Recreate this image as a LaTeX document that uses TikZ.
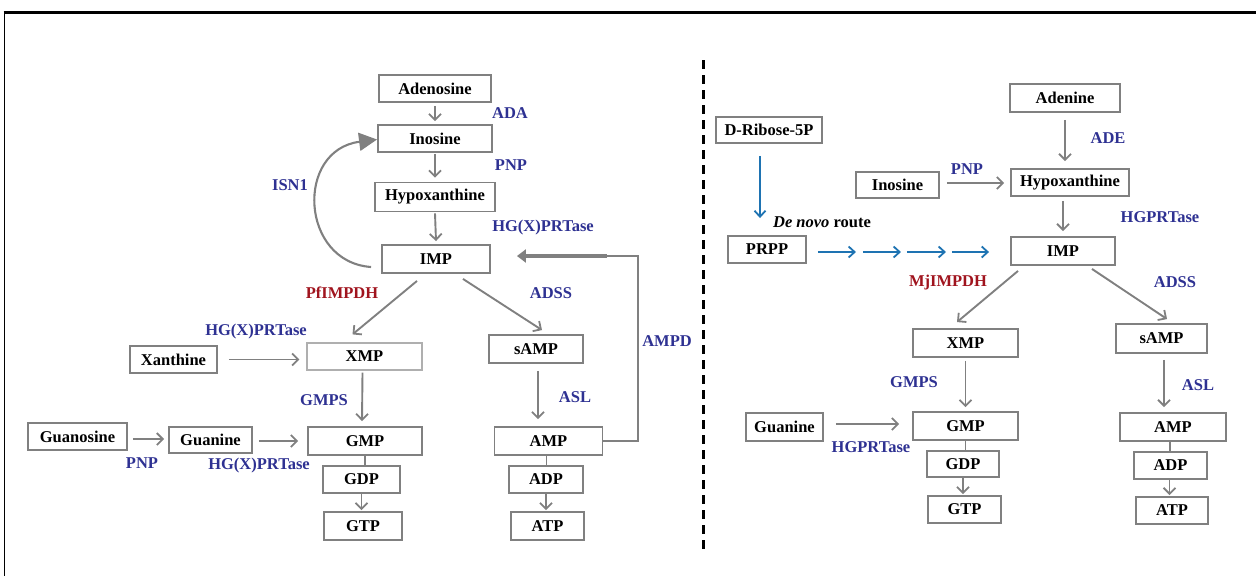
\documentclass[tikz,border=0pt]{standalone}
\usepackage{fontspec}
\setmainfont{Liberation Serif}
\usetikzlibrary{arrows.meta,calc}
\definecolor{lblue}{RGB}{46,49,146}
\definecolor{lred}{RGB}{160,20,30}
\definecolor{gline}{RGB}{128,128,128}
\definecolor{lightline}{RGB}{175,175,175}
\definecolor{darr}{RGB}{30,115,178}
\begin{document}
\begin{tikzpicture}[x=1pt,y=-1pt,
  box/.style 2 args={draw=gline,line width=1.9pt,minimum width=#1,minimum height=#2,inner sep=0pt,
    font=\fontsize{16.5}{18}\selectfont\bfseries,text=black},
  enz/.style={text=lblue,font=\fontsize{16.5}{18}\selectfont\bfseries,inner sep=0pt},
  renz/.style={text=lred,font=\fontsize{16.5}{18}\selectfont\bfseries,inner sep=0pt},
  arr/.style={draw=gline,line width=1.9pt,-{Straight Barb[length=6pt,width=12pt,line width=1.8pt]}},
  plain/.style={draw=gline,line width=1.9pt},
  barr/.style={draw=darr,line width=1.9pt,-{Straight Barb[length=6pt,width=11pt,line width=1.8pt]}},
  bigtip/.style={draw=gline,line width=2.1pt,-{Triangle[length=18pt,width=18pt]}},
  thicktip/.style={draw=gline,line width=4.5pt,-{Triangle[length=9pt,width=13pt]}}
]
\useasboundingbox (0,0) rectangle (1256,576);
% frame
\draw[line width=2.5pt] (3.5,12.5) -- (1256,12.5);
\draw[line width=1.5pt] (4.5,12) -- (4.5,576);
% divider
\draw[line width=3pt,dash pattern=on 9pt off 6pt] (703,60) -- (703,552);

% ---------- left ----------
\node[box={112}{27}] (adenosine) at (435,88.5) {Adenosine};
\node[box={114}{27}] (inosineL) at (435,138.5) {Inosine};
\node[box={120}{29}] (hypoL) at (435,197) {Hypoxanthine};
\node[box={108}{28}] (impL) at (436,259) {IMP};
\node[box={115}{27},draw=lightline,line width=1.2pt] (xmpL) at (364.5,356.5) {XMP};
\node[box={94}{28}] (sampL) at (536,349) {sAMP};
\node[box={114}{28}] (gmpL) at (365,441) {GMP};
\node[box={108}{28}] (ampL) at (548.5,441) {AMP};
\node[box={77}{27}] (gdpL) at (361.5,479.5) {GDP};
\node[box={74}{27}] (adpL) at (546,479.5) {ADP};
\node[box={78}{28}] (gtpL) at (363,526) {GTP};
\node[box={73}{28}] (atpL) at (547.5,526) {ATP};
\node[box={87}{27}] (xanthine) at (173.5,359.5) {Xanthine};
\node[box={99}{27}] (guanosine) at (77.5,436.5) {Guanosine};
\node[box={83}{26}] (guanineL) at (210.5,440) {Guanine};

\draw[arr] ($(adenosine.south)+(0,3)$) -- ($(inosineL.north)+(0,-3)$);
\draw[arr] ($(inosineL.south)+(0,1)$) -- ($(hypoL.north)+(0,-4)$);
\draw[arr] ($(hypoL.south)+(0,1)$) -- ($(impL.north)+(0,-3)$);
\draw[arr] ($(impL.south)+(-19,7)$) -- ($(xmpL.north)+(-12,-8)$);
\draw[arr] ($(impL.south)+(27,5)$) -- ($(sampL.north)+(6,-4)$);
\draw[arr] ($(xmpL.south)+(-2,2)$) -- ($(gmpL.north)+(-3,-5)$);
\draw[arr] ($(sampL.south)+(2,7)$) -- ($(sampL.south |- ampL.north)+(2,-7)$);
\draw[plain] (gmpL.south) -- (gmpL.south |- gdpL.north);
\draw[arr] (gdpL.south) -- ($(gdpL.south |- gtpL.north)+(0,-1)$);
\draw[plain] ($(ampL.south)+(-2,0)$) -- ($(ampL.south |- adpL.north)+(-2,0)$);
\draw[arr] (adpL.south) -- ($(adpL.south |- atpL.north)+(0,-1)$);
\draw[arr] ($(xanthine.east)+(11,0)$) -- ($(xmpL.west |- xanthine.east)+(-7,0)$);
\draw[arr] ($(guanosine.east)+(5,2.5)$) -- ($(guanineL.west)+(-4,-1)$);
\draw[arr] ($(guanineL.east)+(6,1)$) -- ($(gmpL.west |- guanineL.east)+(-9,1)$);
% ISN1 loop
\draw[bigtip] ($(impL.west)+(-10,8)$) .. controls (300,262) and (295,150) .. ($(inosineL.west)+(0,1)$);
% AMPD loop
\coordinate (ampdTop) at (638,256);
\coordinate (thickStart) at (607,256);
\draw[plain] (ampL.east) -| (ampdTop) -- (thickStart);
\draw[thicktip] (thickStart) -- ($(impL.east |- thickStart)+(26,0)$);

\node[enz] at (510,113) {ADA};
\node[enz] at (511,165) {PNP};
\node[enz] at (543,228) {HG(X)PRTase};
\node[enz] at (290,185) {ISN1};
\node[renz] at (342,293) {PfIMPDH};
\node[enz] at (551,293) {ADSS};
\node[enz] at (256,332) {HG(X)PRTase};
\node[enz] at (324,400) {GMPS};
\node[enz] at (575,397) {ASL};
\node[enz] at (667,341) {AMPD};
\node[enz] at (142,463) {PNP};
\node[enz] at (259,466) {HG(X)PRTase};

% ---------- right ----------
\node[box={106}{26}] (ribose) at (769,130) {D-Ribose-5P};
\node[box={83}{26}] (inosineR) at (897.5,185) {Inosine};
\node[box={78}{27}] (prpp) at (767,249.5) {PRPP};
\node[box={110}{28}] (adenine) at (1065,98) {Adenine};
\node[box={118}{27}] (hypoR) at (1070,182.5) {Hypoxanthine};
\node[box={104}{28}] (impR) at (1063,251) {IMP};
\node[box={105}{28}] (xmpR) at (965.5,343) {XMP};
\node[box={91}{29}] (sampR) at (1161.5,338.5) {sAMP};
\node[box={77}{28}] (guanineR) at (784.5,427) {Guanine};
\node[box={105}{28}] (gmpR) at (965.5,426) {GMP};
\node[box={106}{28}] (ampR) at (1173,427) {AMP};
\node[box={72}{26}] (gdpR) at (963,464) {GDP};
\node[box={73}{27}] (adpR) at (1170.5,465.5) {ADP};
\node[box={73}{27}] (gtpR) at (964.5,509.5) {GTP};
\node[box={72}{27}] (atpR) at (1172,510.5) {ATP};

\draw[barr] ($(ribose.south)+(-9,12)$) -- ($(prpp.north)+(-7,-17)$);
\coordinate (d0) at ($(prpp.east)+(11,2.5)$);
\draw[barr] (d0) -- ++(38,0);
\draw[barr] ($(d0)+(45,0)$) -- ++(38,0);
\draw[barr] ($(d0)+(89,0)$) -- ++(39,0);
\draw[barr] ($(d0)+(134,0)$) -- ($(impR.west |- d0)+(-21,0)$);

\draw[arr] ($(adenine.south)+(0,7)$) -- ($(hypoR.north)+(-5,-7)$);
\draw[arr] ($(inosineR.east)+(7,-2)$) -- ($(hypoR.west)+(-6,0.5)$);
\draw[arr] ($(hypoR.south)+(-7,4)$) -- ($(impR.north)+(0,-5)$);
\draw[arr] ($(impR.south)+(-45,5)$) -- ($(xmpR.north)+(-8.5,-6)$);
\draw[arr] ($(impR.south)+(29,3)$) -- ($(sampR.north)+(5.5,-4)$);
\draw[arr] ($(xmpR.south)+(0,3)$) -- ($(xmpR.south |- gmpR.north)+(0,-4)$);
\draw[arr] ($(sampR.south)+(2.5,6)$) -- ($(sampR.south |- ampR.north)+(2.5,-5)$);
\draw[arr] ($(guanineR.east)+(12,-3)$) -- ($(gmpR.west |- guanineR.east)+(-13,-3)$);
\draw[plain] (gmpR.south) -- (gmpR.south |- gdpR.north);
\draw[arr] (gdpR.south) -- ($(gdpR.south |- gtpR.north)+(0,-1)$);
\draw[plain] ($(ampR.south)+(-3,0)$) -- ($(ampR.south |- adpR.north)+(-3,0)$);
\draw[arr] ($(adpR.south)+(-1,0)$) -- ($(adpR.south |- atpR.north)+(-1,-1)$);

\node[font=\fontsize{16.5}{18}\selectfont\bfseries,inner sep=0pt] at (822,222) {\textit{De novo} route};
\node[enz] at (1108,138) {ADE};
\node[enz] at (967,169) {PNP};
\node[enz] at (1160,217) {HGPRTase};
\node[renz] at (948,283) {MjIMPDH};
\node[enz] at (1175,282) {ADSS};
\node[enz] at (914,382) {GMPS};
\node[enz] at (1198,385) {ASL};
\node[enz] at (871,447) {HGPRTase};
\end{tikzpicture}
\end{document}
